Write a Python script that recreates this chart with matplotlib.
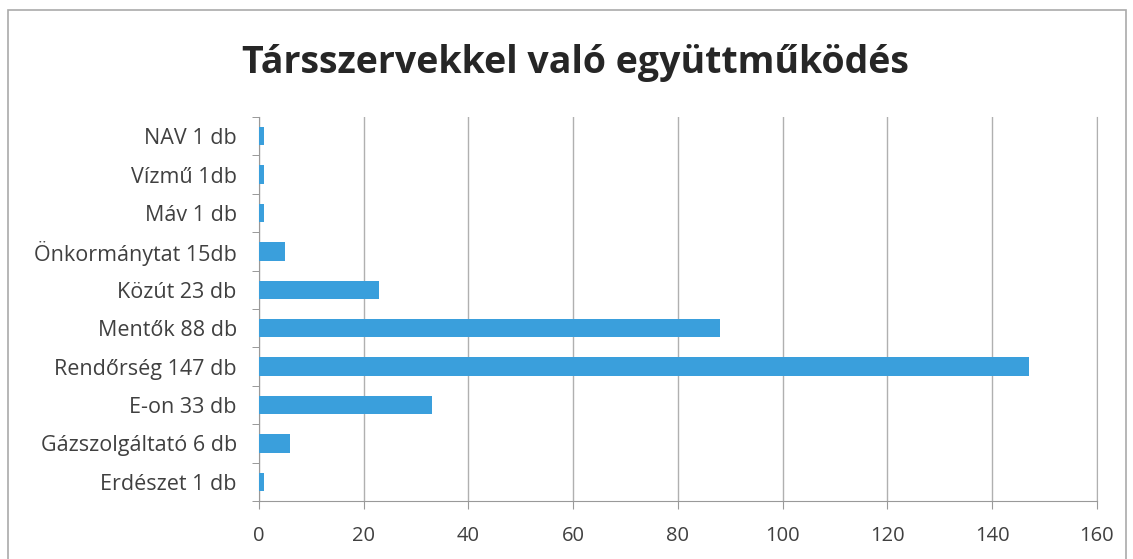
import numpy as np
import matplotlib.pyplot as plt
from matplotlib.patches import Rectangle

# Adatok (felülről lefelé)
kategoriak = ["NAV 1 db", "Vízmű 1db", "Máv 1 db", "Önkormánytat 15db", "Közút 23 db",
              "Mentők 88 db", "Rendőrség 147 db", "E-on 33 db", "Gázszolgáltató 6 db", "Erdészet 1 db"]
ertekek = [1, 1, 1, 5, 23, 88, 147, 33, 6, 1]
x_ticks = [0, 20, 40, 60, 80, 100, 120, 140, 160]

plt.rcParams['font.family'] = ['Open Sans', 'DejaVu Sans']

fig = plt.figure(figsize=(11.33, 5.59), dpi=100)
ax = fig.add_axes([0.2286, 0.1038, 0.7394, 0.687])

y = np.arange(len(kategoriak))[::-1]
ax.barh(y, ertekek, height=0.48, color='#3a9fdc', zorder=3)

ax.set_xlim(0, 160)
ax.set_ylim(-0.5, len(kategoriak) - 0.5)
ax.set_xticks(x_ticks)
ax.set_xticklabels([str(t) for t in x_ticks], fontsize=14.5, color='#404040')
ax.set_yticks(y)
ax.set_yticklabels(kategoriak, fontsize=15.5, color='#404040')
ax.tick_params(axis='y', length=0, pad=16)
ax.tick_params(axis='x', length=6, color='#999999', pad=12)

# kis jelölések a kategóriák határán
ax.set_yticks(np.arange(-0.5, len(kategoriak), 1), minor=True)
ax.tick_params(axis='y', which='minor', length=5, color='#888888')

ax.grid(axis='x', color='#b0b0b0', linewidth=1, zorder=0)
ax.spines['top'].set_visible(False)
ax.spines['right'].set_color('#b0b0b0')
ax.spines['left'].set_color('#999999')
ax.spines['bottom'].set_color('#999999')

fig.text(0.508, 0.888, "Társszervekkel való együttműködés", ha='center', va='center',
         fontsize=27, fontweight='bold', color='#262626')

# külső keret
fig.patches.append(Rectangle((0.007, -0.01), 0.987, 0.992, transform=fig.transFigure,
                             fill=False, edgecolor='#aaaaaa', linewidth=1.2))

fig.savefig("out.png", dpi=100)
